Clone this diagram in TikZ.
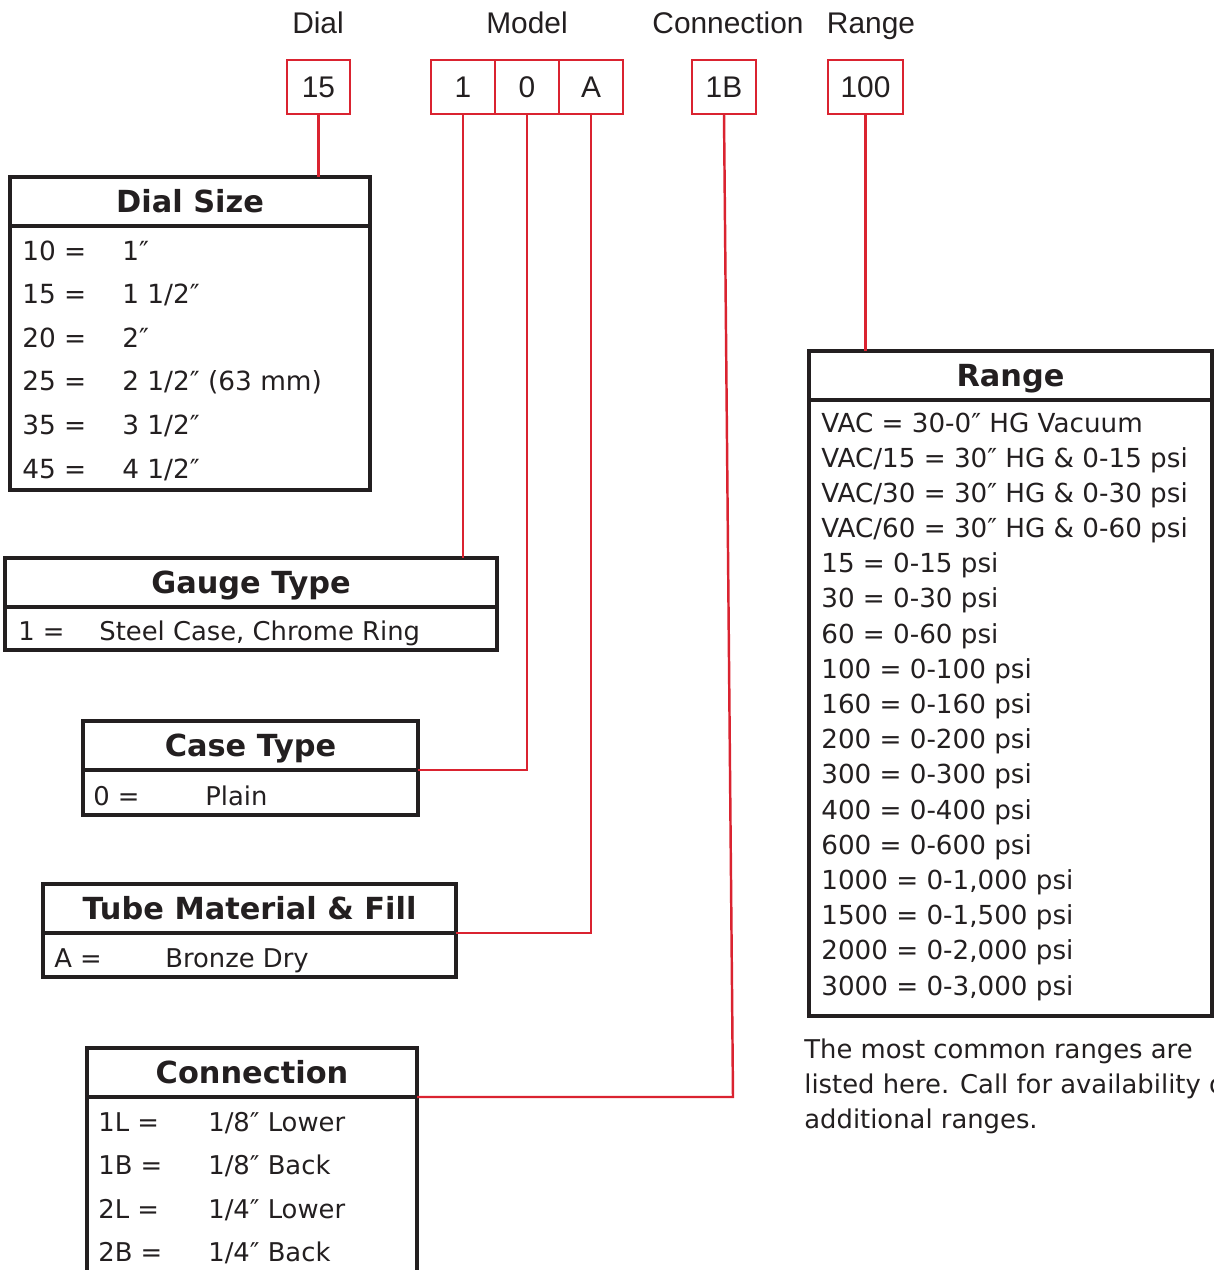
\documentclass[tikz,border=0pt]{standalone}
\usepackage{fontspec}
\setmainfont{DejaVu Sans}
\newfontfamily\labelfont{Liberation Sans}

\definecolor{codered}{RGB}{218,35,48}
\definecolor{ink}{RGB}{35,31,32}

\newcommand*{\px}{0.2mm}
\newcommand*{\rowfont}{\fontsize{14.7}{19.9}\selectfont}

\tikzset{
	codebox/.style={draw=codered, line width=1.6pt, minimum height=54*\px, inner sep=0pt, outer sep=0pt,
		text height=12.2pt, text depth=0pt, text=ink, font=\labelfont\fontsize{17}{20}\selectfont},
	headbox/.style={draw=ink, line width=1.8pt, minimum height=49*\px, inner sep=0pt, outer sep=0pt, anchor=north west,
		text height=12.6pt, text depth=0pt, text=ink, font=\bfseries\fontsize{17.3}{20}\selectfont},
	bodybox/.style={draw=ink, line width=1.8pt, inner sep=0pt, outer sep=0pt, anchor=north},
	row/.style={anchor=base west, inner sep=0pt, text=ink, font=\rowfont},
	toplabel/.style={anchor=base, inner sep=0pt, text=ink, font=\labelfont\fontsize{17}{20}\selectfont},
	link/.style={draw=codered, line width=1.4pt}
}

\begin{document}
\begin{tikzpicture}[x=\px, y=-\px]
	\useasboundingbox (0,0) rectangle (1214,1270);
	\clip (0,0) rectangle (1214,1270);

	% part number
	\node[toplabel] (ldial) at (318,33) {Dial};
	\node[toplabel] (lmodel) at (527,33) {Model};
	\node[toplabel] (lconn) at (728,33) {Connection};
	\node[toplabel] (lrange) at (871,33) {Range};

	\node[codebox, minimum width=63*\px] (c15) at (318.5,87) {15};
	\node[codebox, minimum width=64*\px] (cM1) at (463,87) {1};
	\node[codebox, minimum width=64*\px] (cM0) at (527,87) {0};
	\node[codebox, minimum width=64*\px] (cMA) at (591,87) {A};
	\node[codebox, minimum width=64*\px] (c1B) at (724,87) {1B};
	\node[codebox, minimum width=75*\px] (c100) at (865.5,87) {100};

	% dial size
	\node[headbox, minimum width=360*\px] (dial) at (10,177) {Dial Size};
	\node[bodybox, minimum width=360*\px, minimum height=264*\px] (dialbody) at (dial.south) {};
	\foreach \k/\v [count=\i from 0] in {10/{1″}, 15/{1 1/2″}, 20/{2″}, 25/{2 1/2″ (63 mm)}, 35/{3 1/2″}, 45/{4 1/2″}} {
		\node[row, font=\fontsize{15}{20}\selectfont] (dk\i) at (22,260+43.6*\i) {\k\ =};
		\node[row, font=\fontsize{15}{20}\selectfont] (dv\i) at (122,260+43.6*\i) {\v};
	}

	% gauge type
	\node[headbox, minimum width=492*\px] (gauge) at (5,558) {Gauge Type};
	\node[bodybox, minimum width=492*\px, minimum height=43*\px] (gaugebody) at (gauge.south) {};
	\node[row] (gk) at (18,640) {1 =};
	\node[row] (gv) at (99,640) {Steel Case, Chrome Ring};

	% case type
	\node[headbox, minimum width=335*\px] (case) at (83,721) {Case Type};
	\node[bodybox, minimum width=335*\px, minimum height=45*\px] (casebody) at (case.south) {};
	\node[row] (ck) at (93,805) {0 =};
	\node[row] (cv) at (205,805) {Plain};

	% tube material
	\node[headbox, minimum width=413*\px] (tube) at (43,884) {Tube Material \& Fill};
	\node[bodybox, minimum width=413*\px, minimum height=44*\px] (tubebody) at (tube.south) {};
	\node[row] (tk) at (54,967) {A =};
	\node[row] (tv) at (165,967) {Bronze Dry};

	% connection
	\node[headbox, minimum width=330*\px] (conn) at (87,1048) {Connection};
	\node[bodybox, minimum width=330*\px, minimum height=220*\px] (connbody) at (conn.south) {};
	\foreach \k/\v [count=\i from 0] in {1L/{1/8″ Lower}, 1B/{1/8″ Back}, 2L/{1/4″ Lower}, 2B/{1/4″ Back}} {
		\node[row] (nk\i) at (98,1131+43.6*\i) {\k\ =};
		\node[row] (nv\i) at (208,1131+43.6*\i) {\v};
	}

	% range
	\node[headbox, minimum width=403*\px] (range) at (809,351) {Range};
	\node[bodybox, minimum width=403*\px, minimum height=616*\px] (rangebody) at (range.south) {};
	\foreach \t [count=\i from 0] in {VAC = 30-0″ HG Vacuum, VAC/15 = 30″ HG \& 0-15 psi,
		VAC/30 = 30″ HG \& 0-30 psi, VAC/60 = 30″ HG \& 0-60 psi, 15 = 0-15 psi, 30 = 0-30 psi,
		60 = 0-60 psi, 100 = 0-100 psi, 160 = 0-160 psi, 200 = 0-200 psi, 300 = 0-300 psi,
		400 = 0-400 psi, 600 = 0-600 psi, {1000 = 0-1,000 psi}, {1500 = 0-1,500 psi},
		{2000 = 0-2,000 psi}, {3000 = 0-3,000 psi}} {
		\node[row, font=\fontsize{14.9}{20}\selectfont] (r\i) at (821,432+35.19*\i) {\t};
	}
	\node[row, align=left] (note) at (804,1128)
		{The most common ranges are\\ listed here. Call for availability of\\ additional ranges.};

	% connectors
	\coordinate (connbend) at (733,1097);
	\draw[link] (c15.south) -- (c15.south |- dial.north);
	\draw[link] (cM1.south) -- (cM1.south |- gauge.north);
	\draw[link] (cM0.south) |- (case.south east);
	\draw[link] (cMA.south) |- (tube.south east);
	\draw[link] (c1B.south) -- (connbend) -- (conn.south east);
	\draw[link] (c100.south) -- (c100.south |- range.north);

\end{tikzpicture}
\end{document}
